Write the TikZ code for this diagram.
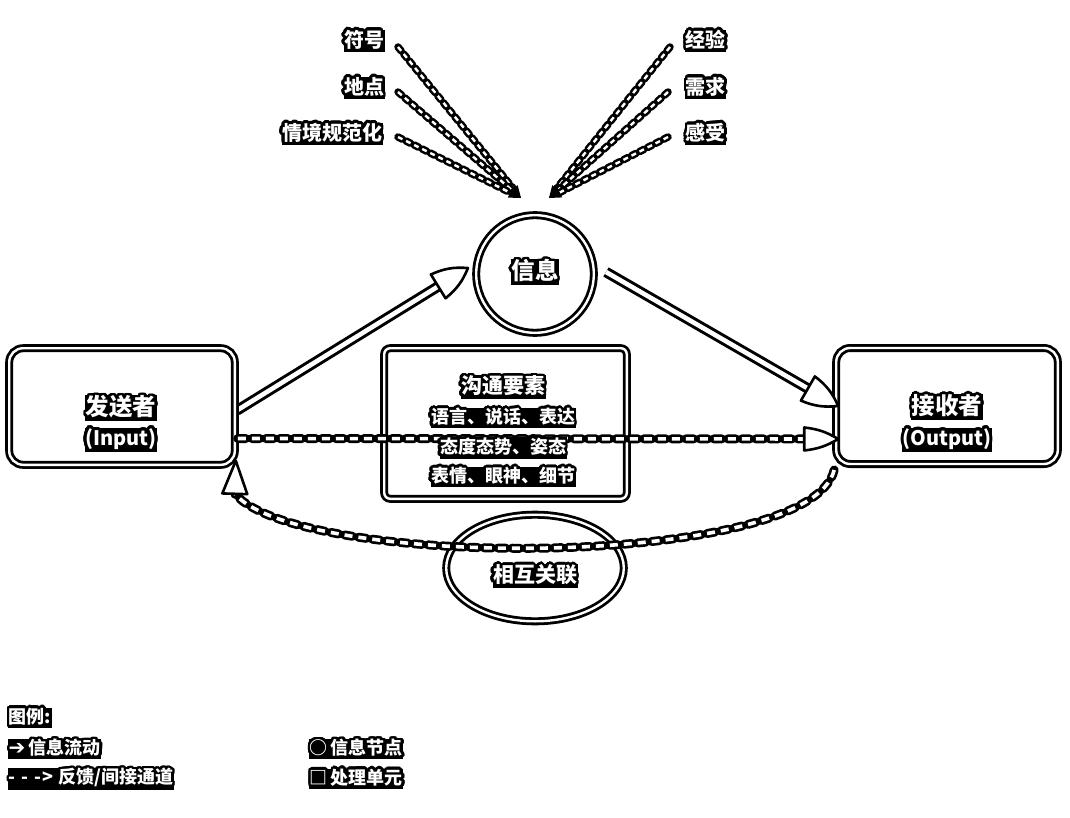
\documentclass[tikz,border=0pt]{standalone}
\usepackage{fontspec}
\setmainfont{Noto Sans CJK SC}
\newfontfamily\symfont{DejaVu Sans}
\usepackage[copies]{contour}
\contourlength{2.6pt}
\contournumber{32}
\usetikzlibrary{calc,shapes.geometric}
\pgfdeclarelayer{back}
\pgfdeclarelayer{bg}
\pgfsetlayers{back,bg,main}
\newcommand\halo[1]{\contour{black}{#1}}
\newcommand\myhead[5]{% style, tip, base, halfwidth, bend
  \path[#1] ($(#3)!#4!-90:(#2)$) to[bend right=#5] (#2) to[bend right=#5] ($(#3)!#4!90:(#2)$) -- cycle;}
\newcommand\fsz[1]{\fontsize{#1pt}{#1pt}\selectfont\bfseries}
\begin{document}
\begin{tikzpicture}[x=1pt,y=-1pt,
  boxst/.style={draw=black, line width=2.8pt, double=white, double distance=2.4pt, inner sep=0pt, outer sep=0pt},
  txt/.style={text=white, fill=black, inner sep=0.5pt},
  shaft/.style={draw=black, line width=3pt, double=white, double distance=4.6pt},
  headst/.style={draw=black, fill=white, line width=2.6pt, line join=round},
  tipst/.style={fill=black},
  dashblk/.style={draw=black, line width=9pt, dash pattern=on 8pt off 6pt, line cap=round},
  dashwht/.style={draw=white, line width=3.6pt, dash pattern=on 8pt off 6pt},
  thinblk/.style={draw=black, line width=7.5pt, dash pattern=on 5pt off 4pt, line cap=round},
  thinwht/.style={draw=white, line width=2.4pt, dash pattern=on 5pt off 4pt},
]
\useasboundingbox (0,0) rectangle (1070,818);
\begin{pgfonlayer}{back}
  \fill[white] (0,0) rectangle (1070,818);
\end{pgfonlayer}

% main shapes
\node[boxst, minimum width=225.6pt, minimum height=116.6pt, rounded corners=14pt] (snd) at (122,406.5) {};
\node[boxst, minimum width=221.6pt, minimum height=116pt, rounded corners=14pt] (rcv) at (947,406) {};
\node[boxst, minimum width=242.6pt, minimum height=150.6pt, rounded corners=6pt] (elem) at (505.5,423.5) {};
\node[boxst, circle, minimum size=117.6pt] (info) at (535,274) {};
\node[boxst, ellipse, minimum width=177.6pt, minimum height=106.6pt] (rel) at (535,568) {};

% labels around top
\node[txt, font=\fsz{20}, anchor=east] (lab1) at (385,41) {\halo{符号}};
\node[txt, font=\fsz{20}, anchor=east] (lab2) at (385,88) {\halo{地点}};
\node[txt, font=\fsz{20}, anchor=east] (lab3) at (383,134) {\halo{情境规范化}};
\node[txt, font=\fsz{20}, anchor=west] (lab4) at (685,41) {\halo{经验}};
\node[txt, font=\fsz{20}, anchor=west] (lab5) at (685,88) {\halo{需求}};
\node[txt, font=\fsz{20}, anchor=west] (lab6) at (685,134) {\halo{感受}};

% connector points
\coordinate (s1) at ($(lab1.east)+(13,6)$);
\coordinate (s2) at ($(lab2.east)+(13,4)$);
\coordinate (s3) at ($(lab3.east)+(15,3)$);
\coordinate (s4) at ($(lab4.west)+(-15,6)$);
\coordinate (s5) at ($(lab5.west)+(-17,4)$);
\coordinate (s6) at ($(lab6.west)+(-17,3)$);
\coordinate (eL) at ($(info.center)+(-14,-76)$);
\coordinate (eR) at ($(info.center)+(14,-76)$);
\foreach \i in {1,2,3} {\coordinate (b\i) at ($(eL)!12pt!(s\i)$);}
\foreach \i in {4,5,6} {\coordinate (b\i) at ($(eR)!12pt!(s\i)$);}

\coordinate (a1s) at ($(snd.east)+(2,4)$);
\coordinate (a1t) at ($(info.center)+(-67,-6)$);
\coordinate (a1b) at ($(a1t)!35pt!(a1s)$);
\coordinate (a2s) at ($(info.center)+(71,-2)$);
\coordinate (a2t) at ($(rcv.west)+(2,0)$);
\coordinate (a2b) at ($(a2t)!35pt!(a2s)$);
\coordinate (a3s) at ($(snd.east)+(3,32)$);
\coordinate (a3t) at ($(rcv.west)+(2,33)$);
\coordinate (a3b) at ($(a3t)!34pt!(a3s)$);
\coordinate (a4s) at ($(rcv.south west)+(-2,6)$);
\coordinate (a4t) at ($(snd.south east)+(1,-4)$);
\coordinate (a4b) at ($(snd.south east)+(0,29)$);

\begin{pgfonlayer}{bg}
  \foreach \i/\e in {1/eL,2/eL,3/eL,4/eR,5/eR,6/eR} {
    \draw[thinblk] (s\i) -- (b\i);
    \draw[thinwht] (s\i) -- (b\i);
    \myhead{tipst}{\e}{b\i}{5.5pt}{0}
  }
  \draw[shaft] (a1s) -- ($(a1b)!-3pt!(a1s)$);
  \draw[shaft] (a2s) -- ($(a2b)!-3pt!(a2s)$);
\end{pgfonlayer}
\myhead{headst}{a1t}{a1b}{14pt}{14}
\myhead{headst}{a2t}{a2b}{14pt}{14}

% dashed feedback connectors
\draw[dashblk] (a3s) -- ($(a3b)!-2pt!(a3s)$);
\draw[dashwht] (a3s) -- ($(a3b)!-2pt!(a3s)$);
\draw[dashblk] (a4s) .. controls (810,570) and (300,570) .. (a4b);
\draw[dashwht] (a4s) .. controls (810,570) and (300,570) .. (a4b);
\myhead{headst}{a3t}{a3b}{11.5pt}{12}
\myhead{headst}{a4t}{a4b}{12.5pt}{0}

% texts
\node[txt, font=\fsz{23.5}] (infot) at (535,272) {\halo{信息}};
\node[txt, font=\fsz{23.5}] (sndt) at (121,408) {\halo{发送者}};
\node[txt, font=\fsz{20}] (sndi) at (121,440) {\halo{(Input)}};
\node[txt, font=\fsz{23.5}] (rcvt) at (947,407) {\halo{接收者}};
\node[txt, font=\fsz{20}] (rcvo) at (947,440) {\halo{(Output)}};
\node[txt, font=\fsz{21}] (el1) at (503,387) {\halo{沟通要素}};
\node[txt, font=\fsz{18}] (el2) at (503,418) {\halo{语言、说话、表达}};
\node[txt, font=\fsz{18}] (el3) at (503,448) {\halo{态度态势、姿态}};
\node[txt, font=\fsz{18}] (el4) at (503,477) {\halo{表情、眼神、细节}};
\node[txt, font=\fsz{21}] (relt) at (535,576) {\halo{相互关联}};

% legend
\node[txt, font=\fsz{18}, anchor=west] (lg0) at (8,718) {\halo{图例:}};
\node[txt, font=\fsz{18}, anchor=west] (lg1) at (8,749) {\halo{{\symfont\fontsize{20pt}{20pt}\selectfont ➔}\hspace{3pt}信息流动}};
\node[txt, font=\fsz{18}, anchor=west] (lg2) at (8,779) {\halo{-\hspace{6pt}-\hspace{6pt}-\hspace{1pt}>\hspace{5pt}反馈/间接通道}};
\node[txt, font=\fsz{18}, anchor=west] (lg3) at (309,749) {\halo{○\hspace{3pt}信息节点}};
\node[txt, font=\fsz{18}, anchor=west] (lg4) at (309,779) {\halo{□\hspace{3pt}处理单元}};
\end{tikzpicture}
\end{document}
